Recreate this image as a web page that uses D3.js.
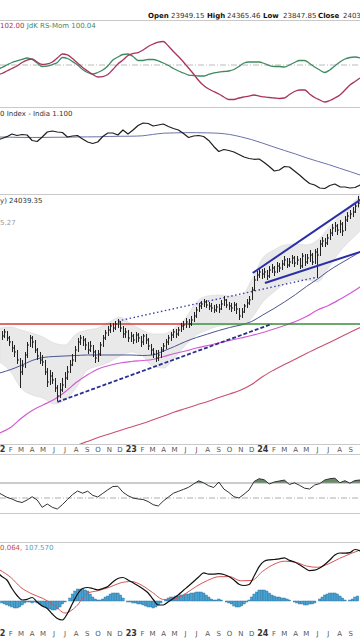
<!DOCTYPE html>
<html><head><meta charset="utf-8">
<script src="https://cdn.jsdelivr.net/npm/d3@7"></script>
<style>html,body{margin:0;padding:0;background:#fff;overflow:hidden}svg{display:block}text{font-family:"DejaVu Sans",Verdana,sans-serif}</style>
</head><body><svg id="c" width="360" height="640"></svg>
<script>
// ---------------- DATA ----------------
const firstBar = "2022-01-07";            // weekly bars
const biweekStart = "2021-12-24";         // 2-week sampled indicator lines
const monthStart = "2022-01-01";          // monthly sampled smooth lines
const axisStart = "2022-01-01", axisEnd = "2024-09-01";

const priceClose = [18060,18240,17970,17790,17520,17340,16980,16440,16710,17205,
17655,17970,17790,17430,17160,16980,16890,16440,15990,16260,
16080,15720,15360,15630,15855,16170,16440,16755,16980,17430,
17790,17970,17880,17655,17430,17610,17340,17070,17250,17655,
17970,18195,18330,18510,18420,18600,18690,18420,18150,18240,
17970,18060,17880,18105,17970,17790,18060,17880,17610,17430,
17250,17070,17205,17430,17610,17790,17970,18105,18240,18150,
18330,18510,18555,18690,18600,18780,18960,19230,19410,19500,
19590,19455,19410,19320,19230,19365,19275,19500,19680,19455,
19410,19320,19455,19275,18960,19140,19410,19545,19680,20130,
20580,20805,20940,20850,20940,20760,21030,21120,20940,21210,
21120,21300,21480,21255,21390,21570,21345,21480,21210,21660,
21390,21570,21705,21390,21840,21705,22200,22335,22245,22470,
22695,22920,23010,22830,23100,22785,23280,23460,23550,23640,
23910,24039.35];
const priceHigh = [18285,18375,18285,18060,17835,17655,17430,17070,16980,17340,
17790,18105,18060,17880,17520,17340,17205,16980,16620,16530,
16440,16170,15855,15945,16170,16440,16710,16980,17250,17610,
17970,18105,18060,17970,17790,17835,17655,17430,17430,17790,
18105,18330,18510,18645,18645,18735,18825,18735,18510,18420,
18330,18240,18150,18240,18195,18060,18150,18150,17970,17700,
17520,17430,17430,17565,17745,17925,18105,18240,18375,18375,
18465,18645,18735,18870,18825,18960,19140,19365,19545,19635,
19725,19680,19590,19545,19455,19500,19500,19680,19860,19725,
19590,19545,19590,19545,19320,19320,19500,19725,19860,20265,
20760,20985,21120,21075,21120,21030,21210,21300,21210,21390,
21345,21480,21660,21570,21570,21705,21660,21660,21570,21795,
21750,21750,21930,21795,21975,22020,22380,22515,22470,22650,
22875,23100,23190,23100,23280,23190,23460,23640,23730,23865,
24045,24365.46];
const priceLow = [17880,17970,17835,17610,17340,17115,16800,15720,16305,16620,
17070,17565,17520,17295,16980,16800,16710,16305,15765,15855,
15900,15540,15135,15270,15540,15720,16080,16395,16710,16890,
17340,17655,17610,17430,17250,17340,17115,16845,16890,17160,
17565,17880,18060,18195,18240,18330,18420,18240,17970,17970,
17790,17790,17700,17745,17790,17565,17655,17700,17430,17205,
17070,16890,16935,17070,17340,17475,17655,17835,17970,17970,
18060,18240,18330,18420,18420,18510,18690,18870,19140,19275,
19365,19320,19230,19140,19095,19140,19095,19230,19410,19320,
19230,19140,19185,19050,18780,18870,19095,19320,19455,19680,
20085,20535,20670,20625,20670,20580,20670,20895,20760,20895,
20940,21030,21210,21120,21165,21300,21165,21255,21075,21120,
21210,21300,21390,21255,21300,20670,21660,22065,22065,22155,
22380,22560,22740,22605,22695,22560,22785,23190,23325,23415,
23595,23847.85];

const sma50 = [16395,16552,16732,16957,17092,17137,17160,17182,17205,17205,
17205,17205,17205,17182,17205,17385,17587,17812,17992,18150,
18307,18442,18555,18712,19005,19297,19590,19927,20287,20625,
20985,21300,21592,21885];
const sma100 = [13695,13950,14347,14707,14955,15202,15540,15967,16305,16575,
16732,16845,16912,16957,17002,17137,17272,17385,17520,17632,
17745,17857,17970,18082,18217,18375,18532,18712,18937,19230,
19432,19702,19995,20310];
const sma200 = [null,null,null,null,null,12795,12975,13132,13312,13492,
13650,13807,13965,14122,14280,14460,14640,14797,14955,15112,
15292,15450,15630,15877,16237,16530,16777,17025,17272,17520,
17745,17992,18240,18465];
const bandUpper = [18420,18465,18330,18195,18015,17745,17655,18150,18330,18420,
18690,18915,18600,18330,18150,18150,18420,18870,19590,19860,
19905,19860,19860,20580,21570,21930,22155,22200,22155,22380,
22920,23460,23955,24450];
const bandLower = [16890,16440,15720,15405,15270,15000,15180,15720,16530,16710,
16890,17160,17340,17160,16710,16620,17070,17655,18105,18330,
18510,18555,18510,18870,19590,20040,20400,20580,20580,20490,
21120,21840,22380,22830];

// horizontal level & trend lines: [date, price]
const resistanceLevel = 18600;
const redLevelSpan = ["2021-12-01","2023-06-16"];
const greenLevelSpan = ["2023-06-09","2024-10-31"];
const supportDashed = [["2022-06-10",15090],["2024-01-26",18600]];
const resistDotted = [["2022-11-25",18735],["2024-06-02",20715]];
const wedgeUpper = [["2023-12-04",20895],["2024-10-05",24270]];
const wedgeLower = [["2024-01-07",20445],["2024-10-05",21885]];

const rsRatio = [98.33,98.58,99.00,99.42,99.83,100.42,100.83,101.00,100.50,100.08,
100.17,100.50,101.17,101.83,101.67,101.08,100.33,99.58,99.00,98.42,
98.00,98.08,98.42,99.25,100.17,100.83,101.58,101.92,102.08,102.50,
103.08,103.50,103.83,103.92,103.17,102.25,101.42,100.50,99.50,98.50,
97.42,96.58,96.00,95.58,95.17,94.67,94.25,94.25,94.50,94.67,
94.83,95.00,94.83,94.67,94.58,94.50,94.42,94.50,95.08,95.58,
95.83,95.83,95.17,94.58,94.17,93.83,94.08,94.50,95.00,95.83,
96.67,97.25,97.83];
const rsMom = [99.25,99.58,100.00,100.42,100.67,100.92,101.17,100.92,100.33,99.75,
99.83,100.08,100.42,101.25,101.08,100.58,100.00,99.25,98.75,98.50,
98.75,99.17,99.83,100.83,101.33,101.75,101.83,101.42,100.75,100.75,
100.92,100.92,100.67,100.33,99.92,99.42,99.00,98.67,98.33,98.25,
98.17,98.17,98.42,98.67,98.83,98.92,99.00,99.25,99.75,100.33,
100.50,100.50,100.50,100.25,99.92,99.75,99.75,99.67,100.00,100.42,
100.75,100.75,100.25,99.67,99.17,98.75,99.17,99.83,100.50,101.00,
101.25,101.33,101.17];

const ratioLine = [1.2125,1.2163,1.2208,1.2275,1.2238,1.2263,1.225,1.2113,1.2088,1.22,
1.2325,1.235,1.2325,1.2313,1.22,1.2225,1.2238,1.215,1.2075,1.2038,
1.2075,1.2213,1.23,1.23,1.225,1.2375,1.2275,1.2375,1.2488,1.255,
1.2538,1.2475,1.25,1.2525,1.2463,1.2413,1.2375,1.2288,1.2188,1.2225,
1.2238,1.2213,1.2113,1.1963,1.1838,1.1888,1.1863,1.1825,1.1763,1.17,
1.1663,1.1643,1.165,1.1563,1.1463,1.135,1.1375,1.1463,1.145,1.135,
1.125,1.1138,1.1038,1.1,1.0925,1.0913,1.0988,1.1025,1.0955,1.095,
1.0925,1.0938,1.1];
const ratioMA = [1.22,1.2195,1.219,1.2188,1.219,1.2193,1.2195,1.22,1.2203,1.2205,
1.2213,1.2218,1.222,1.223,1.2263,1.2295,1.2303,1.2308,1.2308,1.2303,
1.2293,1.2263,1.2205,1.2135,1.2045,1.195,1.1863,1.1775,1.168,1.1593,
1.1513,1.142,1.133,1.1238];

const rsiLine = [58,54.67,50.93,48.67,45.6,44,47.33,51.73,47.33,37.6,
42,37.6,35.33,41.2,48,54.53,59.33,56.4,59.07,53.6,
51.33,56.13,60.93,65.33,65.6,57.73,53.07,50,48.67,48,
45.2,41.07,39.33,46,51.2,56.4,58.93,61.47,64.27,68.67,
72.93,70.27,66.27,64,71.33,62,57.33,51.73,50,55.07,
60.67,72,75.73,74.27,68.67,71.33,72.67,73.87,68,70.27,
66.93,63.07,62,67.33,69.2,74,75.73,76.4,70.4,73.07,
69.73,73.33,74];
const rsiUpper = 70, rsiMid = 50;

const macdLine = [58,49,42,25,11,2,3.4,7,-2,-10,
-15,-26,-35,-38,-25,-5,14,25,27,25,
22.4,25,29,38,45,47,42,36.4,30.6,24,
16,3,-8,-8,-1.6,5.2,12.6,21.4,30,39,
48,56.4,53.6,53.8,54.8,53,49,42,33.6,31,
33,50,68.6,79.4,82.2,83,84.2,86.4,81.2,78,
72.4,66,60.8,61.6,65.8,73,82,92,96,95.8,
96.8,103,100];
const signalLine = [62,47,27,14,5,-8,-24,-11,15.6,20.6,
27.4,36,39,30.8,17,3,4,15,29.4,41.2,
48.6,48.8,40.4,41,59.6,73.4,79.6,77.6,70,67.4,
74.2,85.2,94.8,103];
const histogram = [-4,-6,-8,-10,-12,-14,-14,-12,-8,-4,
-2,-2,-4,-2,-4,-6,-10,-12,-14,-16,
-18,-18,-16,-12,-6,-2,0,6,14,20,
24,24,24,22,20,14,8,4,2,2,
4,8,10,14,16,16,16,12,6,0,
-2,-2,-4,-4,-6,-6,-8,-10,-12,-12,
-14,-12,-8,-4,0,2,6,8,8,10,
10,12,12,14,14,16,16,18,18,18,
16,12,8,4,2,2,4,2,0,-2,
-4,-6,-10,-12,-12,-10,-6,-2,2,8,
14,18,22,22,22,20,16,12,10,8,
8,6,6,4,2,0,-2,-4,-6,-6,
-8,-8,-6,-6,-4,0,4,8,12,14,
16,16,16,14,10,6,2,0,2,4,
8,10];

const header = [["Open","23949.15"],["High","24365.46"],["Low","23847.85"],["Close","24039.35"]];

// ---------------- CHART ----------------
const W = 360, H = 640;
const svg = d3.select("#c");
const defs = svg.append("defs");
const P = d3.utcParse("%Y-%m-%d");
const x = d3.scaleUtc().domain([P(axisStart), P(axisEnd)]).range([-0.3, 350.7]);

const weekDates = priceClose.map((_, i) => d3.utcDay.offset(P(firstBar), 7 * i));
const biDates = rsRatio.map((_, k) => d3.utcDay.offset(P(biweekStart), 14 * k));
const monDates = sma50.map((_, m) => d3.utcMonth.offset(P(monthStart), m));

function clip(id, y0, y1) {
  defs.append("clipPath").attr("id", id).append("rect")
    .attr("x", 0).attr("y", y0).attr("width", W).attr("height", y1 - y0);
  return svg.append("g").attr("clip-path", `url(#${id})`);
}
function path(g, dates, vals, ys, color, width, curve) {
  const ln = d3.line().defined(d => d[1] != null)
    .x(d => x(d[0])).y(d => ys(d[1])).curve(curve || d3.curveLinear);
  return g.append("path").datum(dates.map((d, i) => [d, vals[i]]))
    .attr("d", ln).attr("fill", "none").attr("stroke", color).attr("stroke-width", width)
    .attr("stroke-linejoin", "round");
}

// panel frame lines
[20.5, 107.5, 194.5, 444.5, 454.5, 513.5, 542.5].forEach(yy =>
  svg.append("line").attr("x1", 0).attr("x2", W).attr("y1", yy).attr("y2", yy)
    .attr("stroke", "#c9c9c9").attr("stroke-width", 1));

// header
const hx = [[148,171],[207,227],[263,283],[318,343]];
header.forEach((h, i) => {
  svg.append("text").attr("x", hx[i][0]).attr("y", 18).attr("font-size", 7).attr("font-weight", "bold").attr("fill", "#111").text(h[0]);
  svg.append("text").attr("x", hx[i][1]).attr("y", 18).attr("font-size", 7).attr("fill", "#333").text(h[1]);
});

// ---- Panel 1: RS-Ratio / RS-Mom
const y1 = d3.scaleLinear().domain([93, 107]).range([107, 23]);
const g1 = clip("c1", 21, 107);
g1.append("line").attr("x1", 0).attr("x2", W).attr("y1", y1(100)).attr("y2", y1(100))
  .attr("stroke", "#aaa").attr("stroke-width", 0.8).attr("stroke-dasharray", "6,2,1,2");
path(g1, biDates, rsMom, y1, "#3f8a5f", 1.3, d3.curveMonotoneX);
path(g1, biDates, rsRatio, y1, "#a8335e", 1.3, d3.curveMonotoneX);
const t1 = svg.append("text").attr("x", 0).attr("y", 28).attr("font-size", 7);
t1.append("tspan").attr("fill", "#a8335e").text("102.00 ");
t1.append("tspan").attr("fill", "#3f8a5f").text("JdK RS-Mom 100.04");

// ---- Panel 2: ratio
const y2 = d3.scaleLinear().domain([1.05, 1.3]).range([205, 105]);
const g2 = clip("c2", 108, 194);
path(g2, monDates, ratioMA, y2, "#6a73a8", 1, d3.curveMonotoneX);
path(g2, biDates, ratioLine, y2, "#1e1e1e", 1.2);
svg.append("text").attr("x", 0).attr("y", 116).attr("font-size", 7).attr("fill", "#333").text("0 Index - India 1.100");

// ---- Panel 3: price
const yP = d3.scaleLinear().domain([13000, 25000]).range([448.44, 181.78]);
const g3 = clip("c3", 195, 444);
g3.append("path").datum(monDates.map((d, i) => [d, bandUpper[i], bandLower[i]]))
  .attr("d", d3.area().x(d => x(d[0])).y0(d => yP(d[2])).y1(d => yP(d[1])).curve(d3.curveMonotoneX))
  .attr("fill", "#e9e9e9").attr("stroke", "#d8d8d8").attr("stroke-width", 0.6);
path(g3, monDates, sma200, yP, "#c9506e", 1.1, d3.curveMonotoneX);
path(g3, monDates, sma100, yP, "#d35bd3", 1.2, d3.curveMonotoneX);
path(g3, monDates, sma50, yP, "#4b5590", 1, d3.curveMonotoneX);
// levels
g3.append("line").attr("x1", x(P(redLevelSpan[0]))).attr("x2", x(P(redLevelSpan[1])))
  .attr("y1", yP(resistanceLevel)).attr("y2", yP(resistanceLevel)).attr("stroke", "#d63a3a").attr("stroke-width", 1.5);
g3.append("line").attr("x1", x(P(greenLevelSpan[0]))).attr("x2", x(P(greenLevelSpan[1])))
  .attr("y1", yP(resistanceLevel)).attr("y2", yP(resistanceLevel)).attr("stroke", "#3b8d3b").attr("stroke-width", 1.5);
function tl(pts, color, w, dash) {
  g3.append("line").attr("x1", x(P(pts[0][0]))).attr("y1", yP(pts[0][1]))
    .attr("x2", x(P(pts[1][0]))).attr("y2", yP(pts[1][1]))
    .attr("stroke", color).attr("stroke-width", w).attr("stroke-dasharray", dash || null);
}
tl(supportDashed, "#2a2f8f", 1.8, "4,2");
tl(resistDotted, "#3a40a8", 1.4, "1.5,2.5");
// bars
const bars = g3.append("g").attr("stroke", "#222").attr("stroke-width", 1);
weekDates.forEach((d, i) => {
  const xx = Math.round(x(d)) + 0.5;
  bars.append("line").attr("x1", xx).attr("x2", xx).attr("y1", yP(priceHigh[i])).attr("y2", yP(priceLow[i]));
  bars.append("line").attr("x1", xx).attr("x2", xx + 1.5).attr("y1", yP(priceClose[i])).attr("y2", yP(priceClose[i]));
});
tl(wedgeUpper, "#2b2fa6", 2);
tl(wedgeLower, "#2b2fa6", 2);
svg.append("text").attr("x", 0).attr("y", 203).attr("font-size", 7).attr("fill", "#333").text("y) 24039.35");
svg.append("text").attr("x", 0).attr("y", 225).attr("font-size", 7).attr("fill", "#999").text("5.27");

// ---- x axes labels
const months = d3.utcMonth.range(P("2022-01-01"), P("2024-10-01"));
function axisLabels(yb) {
  months.forEach(m => {
    const isYear = m.getUTCMonth() === 0;
    svg.append("text").attr("x", x(m)).attr("y", yb).attr("text-anchor", "middle")
      .attr("font-size", isYear ? 8 : 7).attr("font-weight", isYear ? "bold" : "normal")
      .attr("fill", isYear ? "#333" : "#555")
      .text(isYear ? d3.utcFormat("%y")(m) : d3.utcFormat("%b")(m)[0]);
  });
}
axisLabels(452);
axisLabels(636);

// ---- Panel 4: RSI-like
const y4 = d3.scaleLinear().domain([30, 100]).range([513, 460.5]);
const g4 = clip("c4", 455, 513);
defs.append("clipPath").attr("id", "c4a").append("rect").attr("x", 0).attr("y", 455).attr("width", W).attr("height", y4(rsiUpper) - 455);
g4.append("path").datum(biDates.map((d, i) => [d, rsiLine[i]]))
  .attr("clip-path", "url(#c4a)")
  .attr("d", d3.area().x(d => x(d[0])).y0(y4(rsiUpper)).y1(d => y4(d[1])))
  .attr("fill", "#557e55").attr("opacity", 0.9);
g4.append("line").attr("x1", 0).attr("x2", W).attr("y1", y4(rsiUpper)).attr("y2", y4(rsiUpper)).attr("stroke", "#999").attr("stroke-width", 1);
g4.append("line").attr("x1", 0).attr("x2", W).attr("y1", y4(rsiMid)).attr("y2", y4(rsiMid)).attr("stroke", "#999").attr("stroke-width", 0.8).attr("stroke-dasharray", "6,2,1,2");
path(g4, biDates, rsiLine, y4, "#333", 1);

// ---- Panel 5: MACD
const y5 = d3.scaleLinear().domain([-60, 120]).range([631, 541]);
const g5 = clip("c5", 543, 627);
g5.append("g").selectAll("rect").data(weekDates).join("rect")
  .attr("x", d => x(d) - 1.25).attr("width", 2.5)
  .attr("y", (d, i) => Math.min(y5(0), y5(histogram[i])))
  .attr("height", (d, i) => Math.abs(y5(histogram[i]) - y5(0)))
  .attr("fill", "#46a2d2").attr("stroke", "#2a6f9c").attr("stroke-width", 0.4);
path(g5, monDates, signalLine, y5, "#d65555", 1, d3.curveMonotoneX);
path(g5, biDates, macdLine, y5, "#111", 1.2, d3.curveMonotoneX);
const t5 = svg.append("text").attr("x", 0).attr("y", 550).attr("font-size", 7);
t5.append("tspan").attr("fill", "#c84848").text("0.064, ");
t5.append("tspan").attr("fill", "#4aa3cc").text("107.570");
</script></body></html>
